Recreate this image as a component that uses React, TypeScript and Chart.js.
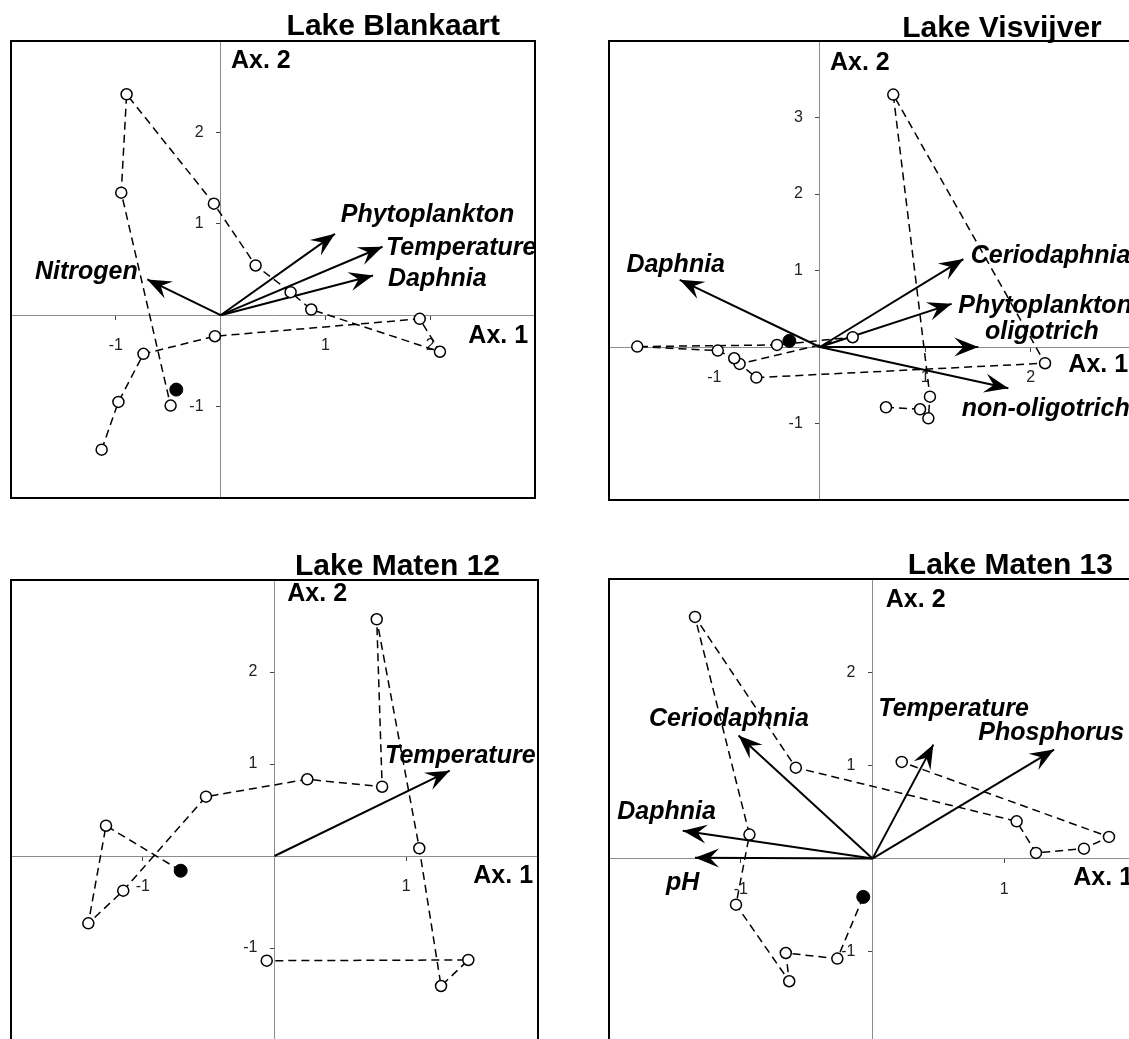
import React, { useEffect, useRef } from 'react';
import { Chart, registerables } from 'chart.js';

Chart.register(...registerables);

const FONT = '"Liberation Sans", Arial, Helvetica, sans-serif';

// ---------------- Lake Blankaart ----------------
const blankaartSampleX = [-1.135, -0.975, -0.736, -0.054, 1.9, 2.093, 0.865, 0.668, 0.334, -0.064, -0.897, -0.948, -0.477];
const blankaartSampleY = [-1.471, -0.949, -0.423, -0.23, -0.04, -0.4, 0.062, 0.252, 0.544, 1.22, 2.417, 1.341, -0.989];
const blankaartMarkedX = [-0.423];
const blankaartMarkedY = [-0.814];
const blankaartVarNames = ['Nitrogen', 'Phytoplankton', 'Temperature', 'Daphnia'];
const blankaartVarX = [-0.7, 1.091, 1.545, 1.455];
const blankaartVarY = [0.391, 0.89, 0.749, 0.435];
const blankaartXTicks = [-1, 1, 2];
const blankaartYTicks = [2, 1, -1];

// ---------------- Lake Visvijver ----------------
const visvijverSampleX = [0.628, 0.951, 1.03, 1.045, 0.697, 2.137, -0.602, -0.761, 0.312, -0.406, -1.732, -0.968, -0.812];
const visvijverSampleY = [-0.788, -0.814, -0.932, -0.649, 3.3, -0.212, -0.4, -0.221, 0.128, 0.027, 0.005, -0.047, -0.147];
const visvijverMarkedX = [-0.289];
const visvijverMarkedY = [0.08];
const visvijverVarNames = ['Daphnia', 'Ceriodaphnia', 'Phytoplankton', 'oligotrich', 'non-oligotrich'];
const visvijverVarX = [-1.329, 1.362, 1.251, 1.504, 1.789];
const visvijverVarY = [0.878, 1.149, 0.564, 0.0, -0.539];
const visvijverXTicks = [-1, 1, 2];
const visvijverYTicks = [3, 2, 1, -1];

// ---------------- Lake Maten 12 ----------------
const maten12SampleX = [-0.712, -1.279, -1.413, -1.148, -0.52, 0.249, 0.817, 0.776, 1.099, 1.264, 1.471, -0.059];
const maten12SampleY = [-0.16, 0.329, -0.732, -0.377, 0.645, 0.834, 0.753, 2.573, 0.084, -1.413, -1.13, -1.138];
const maten12MarkedX = [-0.712];
const maten12MarkedY = [-0.16];
const maten12VarNames = ['Temperature'];
const maten12VarX = [1.33];
const maten12VarY = [0.927];
const maten12XTicks = [-1, 1];
const maten12YTicks = [2, 1, -1];

// ---------------- Lake Maten 13 ----------------
const maten13SampleX = [-0.07, -0.267, -0.658, -0.632, -1.036, -0.934, -1.347, -0.582, 1.094, 1.241, 1.605, 1.795, 0.222];
const maten13SampleY = [-0.411, -1.073, -1.013, -1.316, -0.494, 0.258, 2.593, 0.976, 0.4, 0.061, 0.107, 0.233, 1.037];
const maten13MarkedX = [-0.07];
const maten13MarkedY = [-0.411];
const maten13VarNames = ['Ceriodaphnia', 'Daphnia', 'pH', 'Temperature', 'Phosphorus'];
const maten13VarX = [-1.017, -1.44, -1.347, 0.462, 1.378];
const maten13VarY = [1.32, 0.3, 0.008, 1.223, 1.17];
const maten13XTicks = [-1, 1];
const maten13YTicks = [2, 1, -1];

type XY = [number, number];

interface PanelCfg {
  title: string;
  box: { left: number; top: number; w: number; h: number };
  padding: { left: number; top: number; right: number; bottom: number };
  xRange: XY;
  yRange: XY;
  xTicks: number[];
  yTicks: number[];
  sampleX: number[];
  sampleY: number[];
  markedX: number[];
  markedY: number[];
  varNames: string[];
  varX: number[];
  varY: number[];
  // text anchors (in axis units)
  varLabelAt: XY[];
  titleAt: XY;
  ax1At: XY;
  ax2At: XY;
}

const panels: PanelCfg[] = [
  {
    title: 'Lake Blankaart',
    box: { left: 0, top: 0, w: 560, h: 520 },
    padding: { left: 11, top: 41, right: 25, bottom: 22 },
    xRange: [-2, 3], yRange: [-2, 3],
    xTicks: blankaartXTicks, yTicks: blankaartYTicks,
    sampleX: blankaartSampleX, sampleY: blankaartSampleY,
    markedX: blankaartMarkedX, markedY: blankaartMarkedY,
    varNames: blankaartVarNames, varX: blankaartVarX, varY: blankaartVarY,
    varLabelAt: [[-1.771, 0.393], [1.146, 1.023], [1.578, 0.66], [1.597, 0.32]],
    titleAt: [2.666, 3.066],
    ax1At: [2.364, -0.307],
    ax2At: [0.099, 2.701],
  },
  {
    title: 'Lake Visvijver',
    box: { left: 560, top: 0, w: 600, h: 520 },
    padding: { left: 49, top: 41, right: 24, bottom: 20 },
    xRange: [-2, 3], yRange: [-2, 4],
    xTicks: visvijverXTicks, yTicks: visvijverYTicks,
    sampleX: visvijverSampleX, sampleY: visvijverSampleY,
    markedX: visvijverMarkedX, markedY: visvijverMarkedY,
    varNames: visvijverVarNames, varX: visvijverVarX, varY: visvijverVarY,
    varLabelAt: [[-1.835, 0.984], [1.432, 1.094], [1.314, 0.44], [1.567, 0.105], [1.346, -0.898]],
    titleAt: [2.675, 4.056],
    ax1At: [2.358, -0.323],
    ax2At: [0.097, 3.621],
  },
  {
    title: 'Lake Maten 12',
    box: { left: 0, top: 520, w: 560, h: 540 },
    padding: { left: 11, top: 60, right: 22, bottom: 20 },
    xRange: [-2, 2], yRange: [-2, 3],
    xTicks: maten12XTicks, yTicks: maten12YTicks,
    sampleX: maten12SampleX, sampleY: maten12SampleY,
    markedX: maten12MarkedX, markedY: maten12MarkedY,
    varNames: maten12VarNames, varX: maten12VarX, varY: maten12VarY,
    varLabelAt: [[0.839, 1.008]],
    titleAt: [1.712, 3.054],
    ax1At: [1.509, -0.297],
    ax2At: [0.097, 2.777],
  },
  {
    title: 'Lake Maten 13',
    box: { left: 560, top: 520, w: 600, h: 540 },
    padding: { left: 49, top: 59, right: 24, bottom: 15 },
    xRange: [-2, 2], yRange: [-2, 3],
    xTicks: maten13XTicks, yTicks: maten13YTicks,
    sampleX: maten13SampleX, sampleY: maten13SampleY,
    markedX: maten13MarkedX, markedY: maten13MarkedY,
    varNames: maten13VarNames, varX: maten13VarX, varY: maten13VarY,
    varLabelAt: [[-1.696, 1.42], [-1.937, 0.426], [-1.567, -0.333], [0.044, 1.527], [0.803, 1.277]],
    titleAt: [1.825, 3.054],
    ax1At: [1.524, -0.279],
    ax2At: [0.101, 2.7],
  },
];

function makeOverlay(cfg: PanelCfg, firstArrow: number) {
  return {
    id: 'ordinationOverlay',
    afterDatasetsDraw(chart: any) {
      const ctx: CanvasRenderingContext2D = chart.ctx;
      const xs = chart.scales.x;
      const ys = chart.scales.y;
      const ca = chart.chartArea;
      const px = (v: number) => xs.getPixelForValue(v);
      const py = (v: number) => ys.getPixelForValue(v);
      ctx.save();

      // arrow heads
      ctx.fillStyle = '#000';
      for (let i = firstArrow; i < chart.data.datasets.length; i++) {
        const meta = chart.getDatasetMeta(i);
        const a = meta.data[0];
        const b = meta.data[1];
        if (!a || !b) continue;
        const dx = b.x - a.x;
        const dy = b.y - a.y;
        const len = Math.hypot(dx, dy) || 1;
        const ux = dx / len, uy = dy / len;
        const nx = -uy, ny = ux;
        const L = 24, W = 9.5, K = 15;
        ctx.beginPath();
        ctx.moveTo(b.x, b.y);
        ctx.lineTo(b.x - L * ux + W * nx, b.y - L * uy + W * ny);
        ctx.lineTo(b.x - K * ux, b.y - K * uy);
        ctx.lineTo(b.x - L * ux - W * nx, b.y - L * uy - W * ny);
        ctx.closePath();
        ctx.fill();
      }

      // y tick labels (left of the vertical axis)
      ctx.font = `16px ${FONT}`;
      ctx.fillStyle = '#222';
      ctx.textAlign = 'right';
      ctx.textBaseline = 'middle';
      const x0 = px(0);
      cfg.yTicks.forEach((v) => ctx.fillText(String(v), x0 - 17, py(v)));

      // frame
      ctx.strokeStyle = '#000';
      ctx.lineWidth = 2;
      ctx.strokeRect(ca.left, ca.top, ca.right - ca.left, ca.bottom - ca.top);

      // variable labels
      ctx.textAlign = 'left';
      ctx.textBaseline = 'alphabetic';
      ctx.fillStyle = '#000';
      ctx.font = `italic bold 25px ${FONT}`;
      cfg.varNames.forEach((name, i) => {
        const [lx, ly] = cfg.varLabelAt[i];
        ctx.fillText(name, px(lx), py(ly));
      });

      // axis names
      ctx.font = `bold 25px ${FONT}`;
      ctx.fillText('Ax. 1', px(cfg.ax1At[0]), py(cfg.ax1At[1]));
      ctx.fillText('Ax. 2', px(cfg.ax2At[0]), py(cfg.ax2At[1]));

      // title
      ctx.font = `bold 30px ${FONT}`;
      ctx.textAlign = 'right';
      ctx.fillText(cfg.title, px(cfg.titleAt[0]), py(cfg.titleAt[1]));

      ctx.restore();
    },
  };
}

function Panel({ cfg }: { cfg: PanelCfg }) {
  const ref = useRef<HTMLCanvasElement | null>(null);

  useEffect(() => {
    const canvas = ref.current;
    if (!canvas) return;
    const samples = cfg.sampleX.map((x, i) => ({ x, y: cfg.sampleY[i] }));
    const marked = cfg.markedX.map((x, i) => ({ x, y: cfg.markedY[i] }));
    const arrows = cfg.varX.map((x, i) => ({
      label: cfg.varNames[i],
      data: [{ x: 0, y: 0 }, { x, y: cfg.varY[i] }],
      showLine: true,
      borderColor: '#000',
      borderWidth: 2,
      pointRadius: 0,
      order: 2,
    }));

    const axisCommon = {
      type: 'linear' as const,
      grid: {
        display: true,
        drawOnChartArea: false,
        drawTicks: true,
        tickLength: 4,
        tickColor: '#444',
        tickWidth: 1,
      },
      border: { display: true, color: '#8c8c8c', width: 1 },
    };

    const chart = new Chart(canvas, {
      type: 'scatter',
      data: {
        datasets: [
          {
            label: 'samples',
            data: samples,
            showLine: true,
            borderColor: '#000',
            borderWidth: 1.5,
            borderDash: [8, 5],
            pointRadius: 5.5,
            pointBackgroundColor: '#fff',
            pointBorderColor: '#000',
            pointBorderWidth: 1.5,
            order: 1,
          },
          {
            label: 'first sample',
            data: marked,
            showLine: false,
            pointRadius: 6.5,
            pointBackgroundColor: '#000',
            pointBorderColor: '#000',
            pointBorderWidth: 1,
            order: 0,
          },
          ...arrows,
        ] as any,
      },
      options: {
        responsive: false,
        animation: false,
        devicePixelRatio: 1,
        events: [],
        layout: { padding: cfg.padding },
        plugins: {
          legend: { display: false },
          tooltip: { enabled: false },
          title: { display: false },
        },
        scales: {
          x: {
            ...axisCommon,
            min: cfg.xRange[0],
            max: cfg.xRange[1],
            position: { y: 0 } as any,
            afterBuildTicks: (scale: any) => {
              scale.ticks = cfg.xTicks.map((v) => ({ value: v }));
            },
            ticks: {
              display: true,
              autoSkip: false,
              maxRotation: 0,
              padding: 17,
              color: '#222',
              font: { size: 16, family: FONT },
              callback: (v: any) => String(v),
            },
          },
          y: {
            ...axisCommon,
            min: cfg.yRange[0],
            max: cfg.yRange[1],
            position: { x: 0 } as any,
            afterBuildTicks: (scale: any) => {
              scale.ticks = cfg.yTicks.map((v) => ({ value: v }));
            },
            ticks: { display: false },
          },
        } as any,
      },
      plugins: [makeOverlay(cfg, 2)],
    });
    return () => chart.destroy();
  }, [cfg]);

  return (
    <canvas
      ref={ref}
      width={cfg.box.w}
      height={cfg.box.h}
      style={{
        position: 'absolute',
        left: cfg.box.left,
        top: cfg.box.top,
        width: cfg.box.w,
        height: cfg.box.h,
      }}
    />
  );
}

export default function App() {
  return (
    <div
      style={{
        position: 'fixed',
        left: 0,
        top: 0,
        width: 1129,
        height: 1039,
        overflow: 'hidden',
        background: '#fff',
      }}
    >
      {panels.map((p) => (
        <Panel key={p.title} cfg={p} />
      ))}
    </div>
  );
}
